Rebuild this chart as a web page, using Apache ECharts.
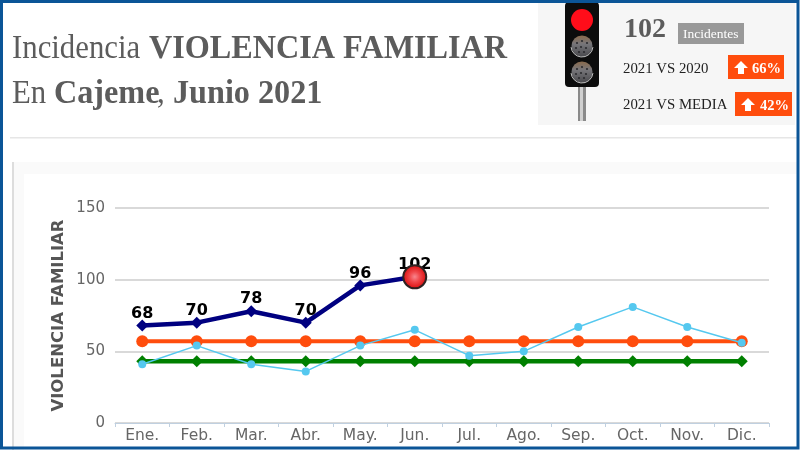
<!DOCTYPE html>
<html>
<head>
<meta charset="utf-8">
<style>html,body{margin:0;padding:0;background:#fff}#c{width:800px;height:450px}</style>
<script src="https://cdn.jsdelivr.net/npm/echarts@6/dist/echarts.min.js"></script>
</head>
<body>
<div id="c"></div>
<script>
const months = ['Ene.','Feb.','Mar.','Abr.','May.','Jun.','Jul.','Ago.','Sep.','Oct.','Nov.','Dic.'];
const actual2021 = [68,70,78,70,96,102,null,null,null,null,null,null];
const current = [null,null,null,null,null,102,null,null,null,null,null,null];
const media = [57,57,57,57,57,57,57,57,57,57,57,57];
const meta = [43,43,43,43,43,43,43,43,43,43,43,43];
const year2020 = [41,54,41,36,54,65,47,50,67,81,67,56];
const yMin = 0, yMax = 150, yStep = 50;
const yAxisTitle = 'VIOLENCIA FAMILIAR';

const serif = '"Liberation Serif","Times New Roman",serif';
const sans = '"DejaVu Sans",Verdana,sans-serif';
const gray = '#5c5c5c';
const hot = '#ff4d0d';

function rect(x,y,w,h,fill,z,r){return {type:'rect',silent:true,z:z==null?-1:z,shape:{x,y,width:w,height:h,r:r||0},style:{fill}};}
function txt(x,y,text,font,fill,z){return {type:'text',silent:true,z:z==null?3:z,x,y,style:{text,font,fill,textVerticalAlign:'middle'}};}
function head(x,y,text,bold,sx){return {type:'text',silent:true,z:3,x,y,scaleX:sx,style:{text,font:(bold?'bold ':'')+'34px '+serif,fill:gray,textVerticalAlign:'top'}};}
function lamp(cy){
  const dots=[[-5,-3],[0,-5],[5,-3],[-6,2],[-1,1],[4,2],[-3,6],[2,6]].map(d=>({type:'circle',silent:true,z:3,shape:{cx:582+d[0],cy:cy+d[1],r:1.1},style:{fill:'#2c2c30'}}));
  return [
    {type:'circle',silent:true,z:2,shape:{cx:582,cy,r:10.5},style:{fill:{type:'linear',x:0,y:0,x2:0,y2:1,colorStops:[{offset:0,color:'#8a6a4c'},{offset:.4,color:'#77767a'},{offset:1,color:'#4a4a4e'}]}}},
    {type:'arc',silent:true,z:3,shape:{cx:582,cy,r:11,startAngle:0.1,endAngle:Math.PI-0.1},style:{fill:'none',stroke:'#c4c4c4',lineWidth:1}}
  ].concat(dots);
}
function arrow(cx,cy){
  return {type:'polygon',silent:true,z:3,shape:{points:[[cx,cy-7],[cx+7,cy],[cx+3,cy],[cx+3,cy+6],[cx-3,cy+6],[cx-3,cy],[cx-7,cy]]},style:{fill:'#fff'}};
}

const chart = echarts.init(document.getElementById('c'),null,{renderer:'canvas'});
chart.setOption({
  animation:false,
  backgroundColor:'#ffffff',
  title:{show:false},
  legend:{show:false},
  tooltip:{show:false},
  grid:{left:115,right:31,top:208,bottom:27,containLabel:false},
  xAxis:{
    type:'category',data:months,boundaryGap:true,
    axisLine:{lineStyle:{color:'#c0d0e0',width:1}},
    axisTick:{show:true,length:4,lineStyle:{color:'#c0d0e0'},alignWithLabel:false},
    axisLabel:{color:'#666666',fontFamily:sans,fontSize:15.5,margin:5,interval:0},
    splitLine:{show:false}
  },
  yAxis:{
    type:'value',min:yMin,max:yMax,interval:yStep,
    name:yAxisTitle,nameLocation:'middle',nameGap:48,nameRotate:90,nameMoveOverlap:false,
    nameTextStyle:{color:'#555555',fontFamily:sans,fontSize:16.5,fontWeight:'bold'},
    axisLine:{show:false},axisTick:{show:false},
    axisLabel:{color:'#666666',fontFamily:sans,fontSize:15,margin:10},
    splitLine:{lineStyle:{color:'#cccccc',width:1.5}}
  },
  series:[
    {name:'Meta',type:'line',z:2,data:meta,symbol:'diamond',symbolSize:12,
      lineStyle:{color:'#008000',width:4.5},itemStyle:{color:'#008000'}},
    {name:'Media',type:'line',z:3,data:media,symbol:'circle',symbolSize:12,
      lineStyle:{color:hot,width:4},itemStyle:{color:hot}},
    {name:'2020',type:'line',z:4,data:year2020,symbol:'circle',symbolSize:8,
      lineStyle:{color:'#55c8ef',width:1.5},itemStyle:{color:'#55c8ef'}},
    {name:'2021',type:'line',z:5,data:actual2021,symbol:'diamond',symbolSize:12,connectNulls:false,
      lineStyle:{color:'#000080',width:4.5},itemStyle:{color:'#000080'},
      label:{show:true,position:'top',distance:-2,color:'#000',fontFamily:sans,fontSize:16,fontWeight:'bold'}},
    {name:'Actual',type:'line',z:6,data:current,symbol:'circle',symbolSize:23,
      lineStyle:{width:0},
      itemStyle:{borderColor:'#2e2222',borderWidth:2,
        color:{type:'radial',x:.5,y:.5,r:.5,colorStops:[{offset:0,color:'#f8868e'},{offset:.4,color:'#f0484c'},{offset:1,color:'#d80808'}]}}}
  ],
  graphic:[
    head(12,32,'Incidencia',false,.905),
    head(149,32,'VIOLENCIA FAMILIAR',true,.947),
    head(12,77,'En',false,.905),
    head(54,77,'Cajeme',true,.947),
    head(157,77,',',false,.905),
    head(173,77,'Junio 2021',true,.947),
    rect(10,137,787,1.5,'#e6e6e6'),
    rect(12,162,785,288,'#fafafa'),
    rect(12,162,2,288,'#dddddd'),
    rect(24,174,773,276,'#ffffff'),
    rect(538,3,257,122,'#f6f6f6'),
    rect(578,86,8,35,'#8a8a8a',0),
    rect(580,86,3,35,'#d0d0d0',1),
    rect(565,2,34,85,'#0c0c0c',1,4),
    {type:'circle',silent:true,z:2,shape:{cx:582,cy:20,r:11},style:{fill:'#ff0d1a'}},
    ...lamp(46),...lamp(72),
    txt(624,30,'102','bold 28px '+serif,gray),
    rect(678,23,66,21,'#999999',1),
    txt(683,34,'Incidentes','13.5px '+serif,'#ffffff'),
    txt(623,69,'2021 VS 2020','14.8px '+serif,'#222222'),
    rect(728,55,56,24,hot,1),
    arrow(741,68),
    txt(752,69,'66%','bold 14.5px '+serif,'#ffffff'),
    txt(623,105,'2021 VS MEDIA','14.8px '+serif,'#222222'),
    rect(735,92,57,24,hot,1),
    arrow(748,105),
    txt(760,106,'42%','bold 14.5px '+serif,'#ffffff'),
    {type:'rect',silent:true,z:50,shape:{x:1.5,y:1.5,width:796.5,height:446.5},style:{fill:'none',stroke:'#0b5597',lineWidth:3}}
  ]
});
</script>
</body>
</html>
